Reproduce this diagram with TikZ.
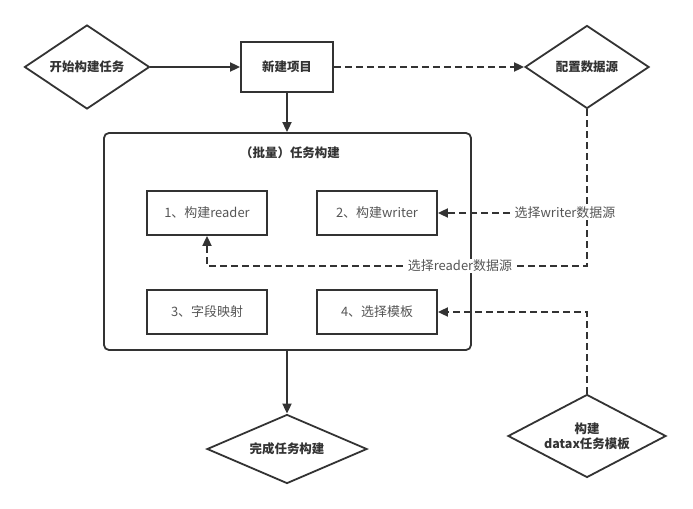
\documentclass[tikz,border=0pt]{standalone}
\usepackage{fontspec}
\setmainfont{Noto Sans CJK SC}
\usetikzlibrary{arrows.meta, shapes.geometric}
\definecolor{lineg}{RGB}{51,51,51}
\definecolor{textg}{RGB}{85,85,85}

\begin{document}
\begin{tikzpicture}[x=1bp, y=-1bp, line width=1.8bp,
        dec/.style={diamond, draw=lineg, fill=white, inner sep=0pt, align=center, text=lineg, font=\fontsize{12.5}{15}\selectfont\bfseries},
        blk/.style={rectangle, draw=lineg, inner sep=0pt, minimum width=120bp, minimum height=44bp, text=textg, font=\fontsize{13}{15}\selectfont},
        flow/.style={draw=lineg, -{Triangle[length=10bp, width=9bp]}},
        dflow/.style={flow, dash pattern=on 7bp off 4bp},
        lbl/.style={fill=white, inner sep=1pt, text=textg, font=\fontsize{13}{15}\selectfont}
      ]
        \useasboundingbox (0,0) rectangle (693,509);
        \node[dec, aspect=1.5, minimum width=125bp, minimum height=84bp] (start) at (87,67) {开始构建任务};
        \node[rectangle, draw=lineg, minimum width=92bp, minimum height=50bp, text=lineg, font=\fontsize{12.5}{15}\selectfont\bfseries] (proj) at (287,67) {新建项目};
        \node[dec, aspect=1.5, minimum width=124bp, minimum height=83bp] (src) at (587,67) {配置数据源};
        \node[rectangle, draw=lineg, rounded corners=5bp, minimum width=367bp, minimum height=217bp] (batch) at (287.5,241.5) {};
        \node[text=lineg, font=\fontsize{12.5}{15}\selectfont\bfseries] (btitle) at (290,153) {（批量）任务构建};
        \foreach \n/\x/\y/\t in {r1/207/213/{1、构建reader}, r2/377/213/{2、构建writer}, r3/207/312/{3、字段映射}, r4/377/312/{4、选择模板}}
          { \node[blk] (\n) at (\x,\y) {\t}; }
        \node[dec, aspect=2.3, minimum width=160bp, minimum height=69bp] (done) at (287,449) {完成任务构建};
        \node[dec, aspect=1.9, minimum width=158bp, minimum height=83bp] (tpl) at (587,436) {构建\\datax任务模板};
        \coordinate (rturn) at (207,266);
        \coordinate (wsrc) at (587,213);
        \draw[flow] (start) -- (proj);
        \draw[dflow] (proj) -- (src);
        \draw[flow] (proj.south) -- (proj.south |- batch.north);
        \draw[flow] (done.north |- batch.south) -- (done.north);
        \draw[dflow] (src.south) |- (rturn) -- (r1.south);
        \draw[dflow] (wsrc) -- (r2.east);
        \draw[dflow] (tpl.north) |- (r4.east);
        \node[lbl] (rlbl) at (460,266) {选择reader数据源};
        \node[lbl] (wlbl) at (565,213) {选择writer数据源};
      \end{tikzpicture}
\end{document}
